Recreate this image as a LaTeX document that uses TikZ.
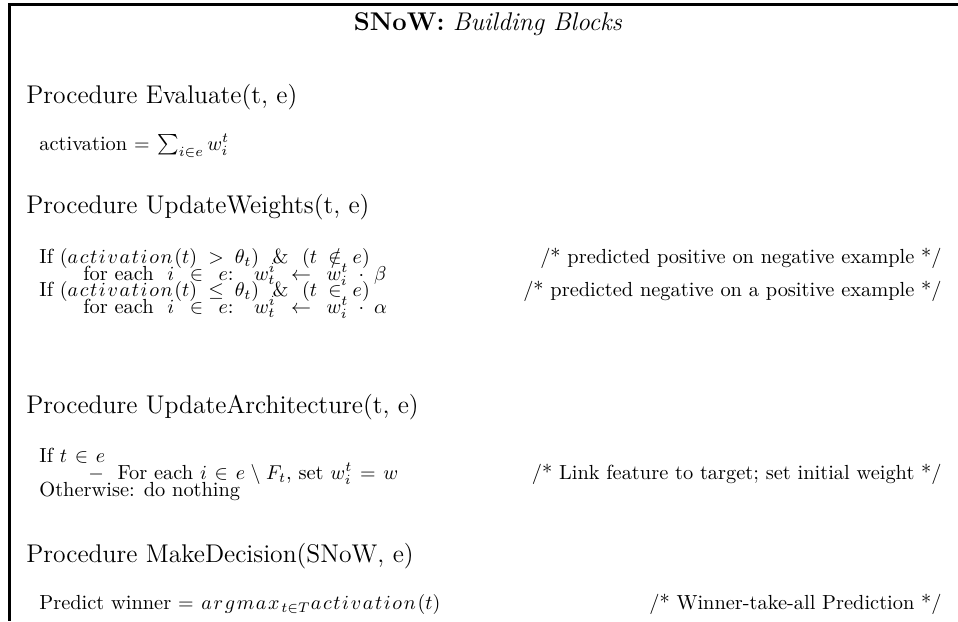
\documentclass[tikz,border=0pt]{standalone}
\usepackage{amsmath,amssymb}
\makeatletter
% math italic word with a little extra tracking between letters
\newcommand\lsw[1]{\@tfor\lswtk:=#1\do{\lswtk\mkern1.5mu}}
\makeatother
% looser spacing around relations and operators
\newcommand\loosemath{\thickmuskip=10mu plus 2mu\medmuskip=7mu plus 2mu}
\newcommand\widemath{\thickmuskip=14mu plus 2mu\medmuskip=9mu plus 2mu}
\newcommand\midmath{\thickmuskip=7mu plus 2mu\medmuskip=5mu plus 2mu}
\tikzset{
  frame/.style={line width=1.5pt},
  headtxt/.style={anchor=base west, inner sep=0pt, font=\fontsize{12.8}{15}\selectfont},
  bodytxt/.style={anchor=base west, inner sep=0pt, font=\fontsize{10.2}{12}\selectfont\midmath},
  looserow/.style={font=\fontsize{10.2}{12}\selectfont\loosemath},
  widerow/.style={font=\fontsize{10.2}{12}\selectfont\widemath},
  notetxt/.style={anchor=base east, inner sep=0pt, font=\fontsize{10.2}{12}\selectfont},
  titletxt/.style={anchor=base, inner sep=0pt, font=\fontsize{12.8}{15}\selectfont}
}
\begin{document}
\begin{tikzpicture}[x=0.5pt, y=-0.5pt]
  \useasboundingbox (0,0) rectangle (958,621);
  % open frame: top rule and left rule
  \draw[frame] (958,4.5) -- (9.5,4.5) -- (9.5,621);

  \node[titletxt] (title) at (488,30) {\textbf{SNoW:} \textit{Building Blocks}};

  % Evaluate
  \node[headtxt] (evalh) at (26,103) {Procedure Evaluate(t, e)};
  \node[bodytxt] (evalb) at (39,150) {activation $= \sum_{i \in e} w_i^t$};

  % UpdateWeights
  \node[headtxt] (updh) at (26,213) {Procedure UpdateWeights(t, e)};
  \node[bodytxt, looserow] (upd1) at (39,263) {If $(\lsw{activation}(t) > \theta_t)$ \ \& \ $(t \notin e)$};
  \node[bodytxt, widerow] (upd2) at (83,280) {for each\ \ $i \in e$:\ \ \ $w_t^i \leftarrow w_i^t \cdot \beta$};
  \node[bodytxt, looserow] (upd3) at (39,296) {If $(\lsw{activation}(t) \leq \theta_t)$ \ \& \ $(t \in e)$};
  \node[bodytxt, widerow] (upd4) at (83,313) {for each\ \ $i \in e$:\ \ \ $w_t^i \leftarrow w_i^t \cdot \alpha$};
  \node[notetxt] (updn1) at (942,263) {/* predicted positive on negative example */};
  \node[notetxt] (updn2) at (942,296) {/* predicted negative on a positive example */};

  % UpdateArchitecture
  \node[headtxt] (archh) at (26,413) {Procedure UpdateArchitecture(t, e)};
  \node[bodytxt] (arch1) at (39,462) {If $t \in e$};
  \node[bodytxt] (arch2) at (88,479) {$-$\ \ For each $i \in e \setminus F_t$, set $w_i^t = w$};
  \node[bodytxt] (arch3) at (39,496) {Otherwise: do nothing};
  \node[notetxt] (archn) at (942,479) {/* Link feature to target; set initial weight */};

  % MakeDecision
  \node[headtxt] (dech) at (26,562) {Procedure MakeDecision(SNoW, e)};
  \node[bodytxt] (dec1) at (39,609) {Predict winner $= \lsw{argmax}_{t \in T} \lsw{activation}(t)$};
  \node[notetxt] (decn) at (942,609) {/* Winner-take-all Prediction */};
\end{tikzpicture}
\end{document}
